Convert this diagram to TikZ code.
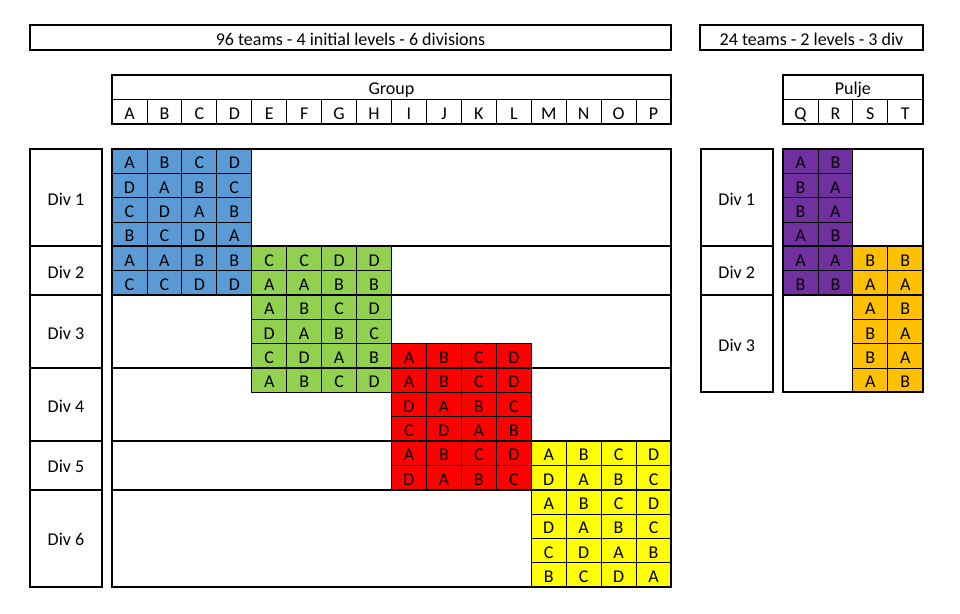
\documentclass[tikz,border=0pt]{standalone}
\usepackage{fontspec}
\setmainfont{Carlito}
\definecolor{cblue}{HTML}{5B9BD5}
\definecolor{cgreen}{HTML}{92D050}
\definecolor{cred}{HTML}{FF0000}
\definecolor{cyellow}{HTML}{FFFF00}
\definecolor{cpurple}{HTML}{7030A0}
\definecolor{corange}{HTML}{FFC000}
\newcommand\cellblock[4]{%
  \foreach \r/\row in {#4} {%
    \foreach \l [count=\c from 0] in \row {%
      \node[cell, fill=#3] (#1-\r-\c) at ({#2+(\c+0.5)*34.94},{149+(\r+0.5)*24.333}) {\l};
    }%
  }%
}
\begin{document}
\begin{tikzpicture}[x=1pt,y=-1pt,
  thickl/.style={line width=2pt},
  thinl/.style={line width=0.8pt},
  every node/.style={font=\fontsize{18pt}{21pt}\selectfont, text=black, text height=17pt, text depth=2pt},
  cell/.style={draw, thinl, minimum width=34.94pt, minimum height=24.333pt, inner sep=0pt, anchor=center},
  hcell/.style={draw, thinl, minimum width=34.94pt, minimum height=24.5pt, inner sep=0pt, anchor=center},
  box/.style={draw, thickl, inner sep=0pt, anchor=center}
]
\useasboundingbox (0,0) rectangle (960,613);

% title boxes
\node[box, minimum width=641pt, minimum height=25pt] (title1) at (350.5,37.5) {96 teams - 4 initial levels - 6 divisions};
\node[box, minimum width=223pt, minimum height=25pt] (title2) at (811.5,37.5) {24 teams - 2 levels - 3 div};

% group header
\node[draw, thinl, minimum width=559pt, minimum height=24.5pt, inner sep=0pt] (group) at (391.5,87.25) {Group};
\foreach \l [count=\i from 0] in {A,B,C,D,E,F,G,H,I,J,K,L,M,N,O,P} {
  \node[hcell] (h-\l) at ({112+(\i+0.5)*34.94},111.75) {\l};
}
\draw[thickl] (112,75) rectangle (671,124);

\node[draw, thinl, minimum width=139.76pt, minimum height=24.5pt, inner sep=0pt] (pulje) at (852.88,87.25) {Pulje};
\foreach \l [count=\i from 0] in {Q,R,S,T} {
  \node[hcell] (h-\l) at ({783+(\i+0.5)*34.94},111.75) {\l};
}
\draw[thickl] (783,75) rectangle (922.76,124);

% colored blocks
\cellblock{bl}{112}{cblue}{0/{A,B,C,D},1/{D,A,B,C},2/{C,D,A,B},3/{B,C,D,A},4/{A,A,B,B},5/{C,C,D,D}}
\cellblock{gr}{251.76}{cgreen}{4/{C,C,D,D},5/{A,A,B,B},6/{A,B,C,D},7/{D,A,B,C},8/{C,D,A,B},9/{A,B,C,D}}
\cellblock{rd}{391.52}{cred}{8/{A,B,C,D},9/{A,B,C,D},10/{D,A,B,C},11/{C,D,A,B},12/{A,B,C,D},13/{D,A,B,C}}
\cellblock{ye}{531.28}{cyellow}{12/{A,B,C,D},13/{D,A,B,C},14/{A,B,C,D},15/{D,A,B,C},16/{C,D,A,B},17/{B,C,D,A}}
\cellblock{pu}{783}{cpurple}{0/{A,B},1/{B,A},2/{B,A},3/{A,B},4/{A,A},5/{B,B}}
\cellblock{or}{852.88}{corange}{4/{B,B},5/{A,A},6/{A,B},7/{B,A},8/{B,A},9/{A,B}}

% grid outlines and division lines
\draw[thickl] (112,149) rectangle (671,587);
\foreach \k in {4,6,9,12,14} {
  \draw[thickl] (112,{149+\k*24.333}) -- (671,{149+\k*24.333});
}
\draw[thickl] (783,149) rectangle (922.76,{149+10*24.333});
\foreach \k in {4,6} {
  \draw[thickl] (783,{149+\k*24.333}) -- (922.76,{149+\k*24.333});
}

% division label boxes
\foreach \n/\a/\b in {1/0/4,2/4/6,3/6/9,4/9/12,5/12/14,6/14/18} {
  \node[box, minimum width=72pt, minimum height={(\b-\a)*24.333pt}] (L\n) at (66,{149+(\a+\b)/2*24.333}) {Div \n};
}
\foreach \n/\a/\b in {1/0/4,2/4/6,3/6/10} {
  \node[box, minimum width=72pt, minimum height={(\b-\a)*24.333pt}] (R\n) at (736.7,{149+(\a+\b)/2*24.333}) {Div \n};
}
\end{tikzpicture}
\end{document}
